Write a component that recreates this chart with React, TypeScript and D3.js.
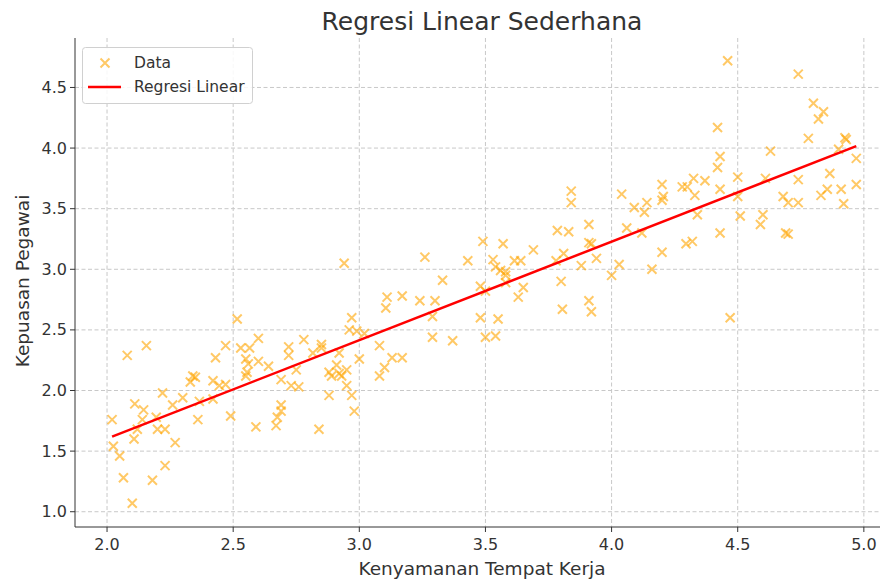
import React from "react";
import * as d3 from "d3";

const TITLE = "Regresi Linear Sederhana";
const X_LABEL = "Kenyamanan Tempat Kerja";
const Y_LABEL = "Kepuasan Pegawai";
const LEGEND_LABELS = ["Data", "Regresi Linear"];

const xTicks = [2.0, 2.5, 3.0, 3.5, 4.0, 4.5, 5.0];
const yTicks = [1.0, 1.5, 2.0, 2.5, 3.0, 3.5, 4.0, 4.5];

// Kenyamanan Tempat Kerja (x)
const kenyamanan = [
  2.02, 2.025, 2.05, 2.065, 2.08, 2.10, 2.11, 2.107, 2.12, 2.145, 2.14, 2.156, 2.18, 2.195, 2.20, 2.22, 2.23, 2.23, 2.26, 2.27,
  2.30, 2.33, 2.34, 2.35, 2.366, 2.36, 2.42, 2.42, 2.43, 2.445, 2.47, 2.47, 2.49,
  2.516, 2.53, 2.565, 2.60, 2.55, 2.56, 2.60, 2.555, 2.55, 2.64, 2.72, 2.72, 2.78, 2.69, 2.75, 2.73, 2.76, 2.69, 2.69, 2.675,
  2.59, 2.67, 2.84, 2.816, 2.85, 2.85, 2.92, 2.91, 2.88, 2.89, 2.92, 2.95, 2.93, 2.95, 3.00, 2.88, 2.97, 2.98, 2.94, 2.97, 2.96, 2.99,
  3.02, 3.08, 3.13, 3.17, 3.10, 3.08, 3.11, 3.105, 3.17, 3.24, 3.30, 3.29, 3.29, 3.37, 3.26, 3.33, 3.43, 3.48, 3.49, 3.48, 3.50, 3.50, 3.54,
  3.53, 3.54, 3.57, 3.56, 3.58, 3.58, 3.58, 3.615, 3.64, 3.69, 3.65, 3.63, 3.55, 3.78, 3.81, 3.785, 3.83, 3.84, 3.84, 3.91, 3.91, 3.92,
  3.88, 3.94, 3.80, 3.91, 3.92, 3.805,
  4.00, 4.03, 4.04, 4.09, 4.14, 4.13, 4.06, 4.12, 4.16, 4.20, 4.20, 4.205, 4.20, 4.28, 4.30, 4.325, 4.37, 4.33, 4.34, 4.295, 4.32,
  4.42, 4.43, 4.42, 4.43, 4.43, 4.46, 4.47, 4.50, 4.50, 4.51,
  4.59, 4.60, 4.61, 4.63, 4.68, 4.69, 4.70, 4.70, 4.74, 4.74, 4.74, 4.78, 4.80, 4.84, 4.82, 4.83, 4.855, 4.865, 4.90, 4.91, 4.92,
  4.925, 4.93, 4.97, 4.97,
];

// Kepuasan Pegawai (y)
const kepuasan = [
  1.76, 1.54, 1.46, 1.28, 2.29, 1.07, 1.89, 1.60, 1.68, 1.84, 1.76, 2.37, 1.26, 1.78, 1.68, 1.98, 1.68, 1.38, 1.88, 1.57,
  1.94, 2.07, 2.12, 2.11, 1.91, 1.76, 1.93, 2.08, 2.27, 2.04, 2.37, 2.05, 1.79,
  2.59, 2.35, 2.35, 2.43, 2.26, 2.22, 2.24, 2.15, 2.12, 2.20, 2.36, 2.29, 2.42, 2.09, 2.17, 2.04, 2.03, 1.88, 1.83, 1.78,
  1.70, 1.71, 1.68, 2.31, 2.38, 2.35, 2.31, 2.21, 2.15, 2.12, 2.14, 2.17, 2.12, 2.04, 2.26, 1.96, 1.96, 1.83, 3.05, 2.60, 2.50, 2.49,
  2.47, 2.37, 2.27, 2.27, 2.19, 2.12, 2.77, 2.68, 2.78, 2.74, 2.74, 2.61, 2.44, 2.41, 3.10, 2.91, 3.07, 2.60, 3.23, 2.86, 2.82, 2.44, 2.45,
  3.08, 3.02, 3.21, 2.99, 2.98, 2.95, 2.89, 3.07, 3.07, 3.16, 2.85, 2.77, 2.59, 3.07, 3.13, 3.32, 3.31, 3.645, 3.55, 3.37, 3.22, 3.21,
  3.03, 3.09, 2.90, 2.74, 2.65, 2.67,
  2.95, 3.04, 3.62, 3.51, 3.55, 3.47, 3.34, 3.30, 3.00, 3.14, 3.70, 3.60, 3.57, 3.68, 3.68, 3.75, 3.73, 3.61, 3.45, 3.21, 3.23,
  4.17, 3.93, 3.84, 3.66, 3.30, 4.72, 2.60, 3.76, 3.60, 3.44,
  3.37, 3.45, 3.75, 3.975, 3.60, 3.30, 3.29, 3.55, 3.55, 3.74, 4.61, 4.08, 4.37, 4.30, 4.24, 3.61, 3.66, 3.79, 3.99, 3.66, 3.54,
  4.085, 4.07, 3.915, 3.70,
];

const W = 882;
const H = 580;
const M = { left: 75, right: 880, top: 38, bottom: 527 };

export default function App() {
  const x = d3.scaleLinear().domain([1.873, 5.064]).range([M.left, M.right]);
  const y = d3.scaleLinear().domain([0.874, 4.908]).range([M.bottom, M.top]);

  const n = Math.min(kenyamanan.length, kepuasan.length);
  const pts = d3.range(n).map((i) => [kenyamanan[i], kepuasan[i]] as [number, number]);
  const mx = d3.mean(pts, (p) => p[0]) as number;
  const my = d3.mean(pts, (p) => p[1]) as number;
  const sxy = d3.sum(pts, (p) => (p[0] - mx) * (p[1] - my));
  const sxx = d3.sum(pts, (p) => (p[0] - mx) ** 2);
  const slope = sxy / sxx;
  const intercept = my - slope * mx;
  const [xmin, xmax] = d3.extent(pts, (p) => p[0]) as [number, number];
  const line = d3
    .line<number>()
    .x((v) => x(v))
    .y((v) => y(intercept + slope * v));

  const font = "'DejaVu Sans', sans-serif";
  const textColor = "#333333";
  const mk = 4.5;
  const cx0 = 482;

  return (
    <svg
      width={W}
      height={H}
      style={{ position: "absolute", left: 0, top: 0, background: "#fff" }}
      fontFamily={font}
    >
      <rect x={0} y={0} width={W} height={H} fill="#fff" />
      {/* grid */}
      {xTicks.map((t) => (
        <line key={"gx" + t} x1={x(t)} x2={x(t)} y1={M.top} y2={M.bottom} stroke="#c8c8c8" strokeWidth={1} strokeDasharray="4 2.5" />
      ))}
      {yTicks.map((t) => (
        <line key={"gy" + t} x1={M.left} x2={M.right} y1={y(t)} y2={y(t)} stroke="#c8c8c8" strokeWidth={1} strokeDasharray="4 2.5" />
      ))}
      {/* points */}
      <g stroke="#FFA500" strokeOpacity={0.6} strokeWidth={2} fill="none">
        {pts.map((p, i) => {
          const cx = x(p[0]);
          const cy = y(p[1]);
          return (
            <path key={i} d={`M${cx - mk},${cy - mk}L${cx + mk},${cy + mk}M${cx - mk},${cy + mk}L${cx + mk},${cy - mk}`} />
          );
        })}
      </g>
      {/* regression line */}
      <path d={line([xmin, xmax]) || ""} stroke="#ff0000" strokeWidth={2.5} fill="none" />
      {/* spines: left and bottom */}
      <line x1={M.left} x2={M.left} y1={M.top} y2={M.bottom} stroke="#333" strokeWidth={1} />
      <line x1={M.left} x2={M.right} y1={M.bottom} y2={M.bottom} stroke="#333" strokeWidth={1} />
      {/* x ticks */}
      {xTicks.map((t) => (
        <g key={"xt" + t}>
          <line x1={x(t)} x2={x(t)} y1={M.bottom} y2={M.bottom + 5} stroke="#333" />
          <text x={x(t)} y={M.bottom + 23} textAnchor="middle" fontSize={16} fill={textColor}>
            {t.toFixed(1)}
          </text>
        </g>
      ))}
      {yTicks.map((t) => (
        <g key={"yt" + t}>
          <line x1={M.left - 5} x2={M.left} y1={y(t)} y2={y(t)} stroke="#333" />
          <text x={M.left - 8} y={y(t)} dy="0.35em" textAnchor="end" fontSize={16} fill={textColor}>
            {t.toFixed(1)}
          </text>
        </g>
      ))}
      {/* labels */}
      <text x={cx0} y={30} textAnchor="middle" fontSize={25} fill={textColor}>
        {TITLE}
      </text>
      <text x={cx0} y={575} textAnchor="middle" fontSize={18.5} fill={textColor}>
        {X_LABEL}
      </text>
      <text
        transform={`translate(29, ${281}) rotate(-90)`}
        textAnchor="middle"
        fontSize={18.5}
        fill={textColor}
      >
        {Y_LABEL}
      </text>
      {/* legend */}
      <g>
        <rect x={82.5} y={47.5} width={170} height={56} rx={3} fill="#fff" fillOpacity={0.85} stroke="#d0d0d0" />
        <path
          d={`M${105 - mk},${63 - mk}L${105 + mk},${63 + mk}M${105 - mk},${63 + mk}L${105 + mk},${63 - mk}`}
          stroke="#FFA500"
          strokeOpacity={0.6}
          strokeWidth={2}
        />
        <text x={134} y={63} dy="0.35em" fontSize={15.5} fill={textColor}>
          {LEGEND_LABELS[0]}
        </text>
        <line x1={88} x2={121} y1={87} y2={87} stroke="#ff0000" strokeWidth={2.5} />
        <text x={134} y={87} dy="0.35em" fontSize={15.5} fill={textColor}>
          {LEGEND_LABELS[1]}
        </text>
      </g>
    </svg>
  );
}
